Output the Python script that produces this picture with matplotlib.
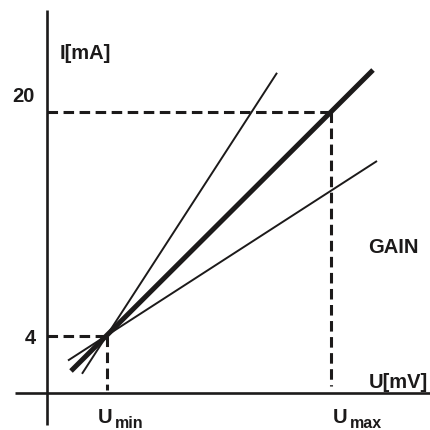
import matplotlib
matplotlib.use("Agg")
import matplotlib.pyplot as plt

# schematic values (U in arbitrary mV units, I in mA)
U_MIN = 12.0
U_MAX = 56.8
I_LOW = 4
I_HIGH = 20

# gain lines: end points (U, I)
thick_u = [4.8, 65.2]
thick_i = [1.5, 23.0]
steep_u = [7.0, 46.0]
steep_i = [1.3, 22.8]
shallow_u = [4.2, 66.0]
shallow_i = [2.25, 16.5]

y_ticks = [I_LOW, I_HIGH]
y_tick_labels = ["4", "20"]

INK = "#1c1a1a"
FONT = ["Liberation Sans", "DejaVu Sans"]

fig = plt.figure(figsize=(4.3, 4.3), dpi=100)
ax = fig.add_axes([0, 0, 1, 1])
ax.set_xlim(-9.4, 76.6)
ax.set_ylim(-2.714, 28.0)
ax.axis("off")

# axes
ax.plot([0, 0], [-2.36, 27.3], color=INK, lw=1.9, solid_capstyle="butt")
ax.plot([-6.4, 76.6], [-0.1, -0.1], color=INK, lw=1.9, solid_capstyle="butt")

# dashed guides
dash = dict(color=INK, lw=2.2, dashes=(3.45, 1.8))
ax.plot([0, U_MAX], [I_HIGH, I_HIGH], **dash)
ax.plot([U_MAX, U_MAX], [I_HIGH, 0.45], **dash)
ax.plot([0, U_MIN], [I_LOW, I_LOW], **dash)
ax.plot([U_MIN, U_MIN], [I_LOW, 0.15], **dash)

# gain lines
ax.plot(thick_u, thick_i, color=INK, lw=3.6, solid_capstyle="butt")
ax.plot(steep_u, steep_i, color=INK, lw=1.4, solid_capstyle="butt")
ax.plot(shallow_u, shallow_i, color=INK, lw=1.4, solid_capstyle="butt")

txt = dict(family=FONT, fontweight="bold", color=INK, va="baseline")
ax.text(2.6, 23.79, "I[mA]", fontsize=14.5, **txt)
ax.text(-2.4, 20.71, y_tick_labels[1], fontsize=14.5, ha="right", **txt)
ax.text(-2.2, 3.43, y_tick_labels[0], fontsize=14.5, ha="right", **txt)
ax.text(64.2, 9.93, "GAIN", fontsize=14.5, **txt)
ax.text(76.2, 0.29, "U[mV]", fontsize=14.5, ha="right", **txt)

ax.text(10.2, -2.21, "U", fontsize=14.5, **txt)
ax.text(13.5, -2.57, "min", fontsize=11.5, **txt)
ax.text(57.2, -2.21, "U", fontsize=14.5, **txt)
ax.text(60.5, -2.57, "max", fontsize=11.5, **txt)

fig.savefig("out.png", dpi=100)
